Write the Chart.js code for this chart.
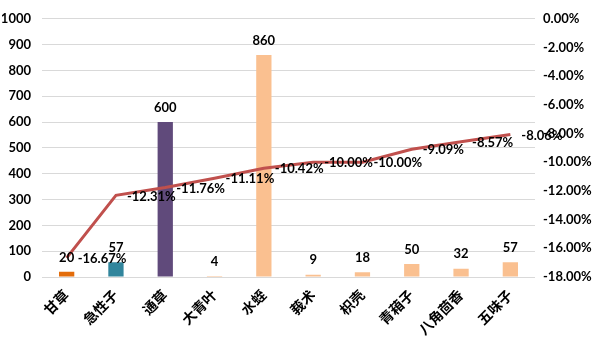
<!DOCTYPE html>
<html lang="zh">
<head>
<meta charset="UTF-8">
<script src="https://cdn.jsdelivr.net/npm/chart.js"></script>
<style>
  html, body { margin: 0; padding: 0; background: #fff; }
  canvas { display: block; }
</style>
</head>
<body>
<canvas id="herbChart" width="597" height="342"></canvas>
<script>
// 药材名称、数量与变化率
var herbs = ['甘草', '急性子', '通草', '大青叶', '水蛭', '莪术', '枳壳', '青葙子', '八角茴香', '五味子'];
var counts = [20, 57, 600, 4, 860, 9, 18, 50, 32, 57];
var rates = [-16.67, -12.31, -11.76, -11.11, -10.42, -10.00, -10.00, -9.09, -8.57, -8.06];
var barColors = ['#e36c0a', '#31859c', '#604a7b', '#fac090', '#fac090', '#fac090', '#fac090', '#fac090', '#fac090', '#fac090'];

var FONT = 'Lato, "Noto Sans CJK SC", sans-serif';

// draw value labels on bars and line points
var valueLabels = {
    id: 'valueLabels',
    afterDatasetsDraw: function(chart) {
        var ctx = chart.ctx;
        ctx.save();
        ctx.font = 'bold 13px ' + FONT;
        ctx.fillStyle = '#000';
        ctx.textAlign = 'center';
        ctx.textBaseline = 'bottom';
        chart.getDatasetMeta(0).data.forEach(function(bar, i) {
            ctx.fillText(String(counts[i]), bar.x, bar.y - 8);
        });
        ctx.textAlign = 'left';
        ctx.textBaseline = 'middle';
        chart.getDatasetMeta(1).data.forEach(function(pt, i) {
            ctx.fillText(rates[i].toFixed(2) + '%', pt.x + 11, pt.y + 1);
        });
        ctx.restore();
    }
};

var ctx = document.getElementById('herbChart').getContext('2d');
var herbChart = new Chart(ctx, {
    type: 'bar',
    data: {
        labels: herbs,
        datasets: [{
            type: 'bar',
            data: counts,
            backgroundColor: barColors,
            barPercentage: 0.31,
            categoryPercentage: 1,
            yAxisID: 'y',
            order: 2
        }, {
            type: 'line',
            data: rates,
            borderColor: '#c0504d',
            borderWidth: 3,
            pointRadius: 0,
            tension: 0,
            fill: false,
            yAxisID: 'y1',
            order: 1
        }]
    },
    options: {
        responsive: false,
        animation: false,
        layout: { padding: { top: 8, right: 5, bottom: 0, left: 2 } },
        plugins: {
            legend: { display: false },
            tooltip: { enabled: false }
        },
        scales: {
            x: {
                grid: { display: false },
                border: { display: false },
                ticks: {
                    color: '#000',
                    font: { family: FONT, size: 14, weight: 'bold' },
                    maxRotation: 45,
                    minRotation: 45,
                    padding: 2
                },
                afterFit: function(s) { s.height = 65; }
            },
            y: {
                position: 'left',
                min: 0,
                max: 1000,
                ticks: {
                    stepSize: 100,
                    color: '#000',
                    padding: 11,
                    font: { family: FONT, size: 13, weight: 'bold' },
                    callback: function(v) { return String(v); }
                },
                grid: { color: '#d9d9d9', drawTicks: false },
                border: { display: false },
                afterFit: function(s) { s.width = 40; }
            },
            y1: {
                position: 'right',
                min: -18,
                max: 0,
                ticks: {
                    stepSize: 2,
                    color: '#000',
                    padding: 8,
                    font: { family: FONT, size: 13, weight: 'bold' },
                    callback: function(v) { return v.toFixed(2) + '%'; }
                },
                grid: { display: false, drawTicks: false },
                border: { display: false },
                afterFit: function(s) { s.width = 57; }
            }
        }
    },
    plugins: [valueLabels]
});
</script>
</body>
</html>
